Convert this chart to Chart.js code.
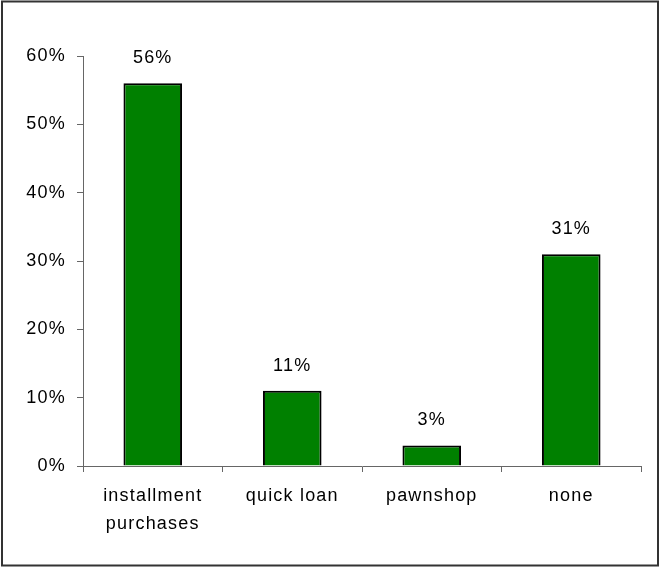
<!DOCTYPE html>
<html>
<head>
<meta charset="utf-8">
<script src="https://cdn.jsdelivr.net/npm/chart.js@4/dist/chart.umd.min.js"></script>
<style>
  html, body { margin: 0; padding: 0; background: #fff; }
  #wrap { width: 661px; height: 567px; }
</style>
</head>
<body>
<div id="wrap"><canvas id="chart" width="661" height="567"></canvas></div>
<script>
const categories = [['installment', 'purchases'], 'quick loan', 'pawnshop', 'none'];
const shares = [56, 11, 3, 31];
const yTicks = [0, 10, 20, 30, 40, 50, 60];

const FONT = "'Liberation Sans', Arial, sans-serif";
const SIZE = 18;

// spread letters a bit, like the old office renderer did
const spacing = {
  id: 'spacing',
  beforeLayout(chart) { chart.ctx.letterSpacing = '1.2px'; },
  beforeDraw(chart) { chart.ctx.letterSpacing = '1.2px'; }
};

// thin frame round the whole picture
const frame = {
  id: 'frame',
  afterDraw(chart) {
    const ctx = chart.ctx;
    ctx.save();
    ctx.strokeStyle = '#333';
    ctx.lineWidth = 2;
    ctx.strokeRect(2, 1.5, chart.width - 5, chart.height - 3);
    ctx.restore();
  }
};

// value labels above each bar
const valueLabels = {
  id: 'valueLabels',
  afterDatasetsDraw(chart) {
    const ctx = chart.ctx;
    const meta = chart.getDatasetMeta(0);
    ctx.save();
    ctx.font = SIZE + 'px ' + FONT;
    ctx.fillStyle = '#000';
    ctx.textAlign = 'center';
    ctx.textBaseline = 'middle';
    meta.data.forEach((bar, i) => {
      ctx.fillText(shares[i] + '%', bar.x, bar.y - 25);
    });
    ctx.restore();
  }
};

new Chart(document.getElementById('chart').getContext('2d'), {
  type: 'bar',
  data: {
    labels: categories,
    datasets: [{
      data: shares,
      backgroundColor: '#008000',
      borderColor: '#000',
      borderWidth: 2,
      categoryPercentage: 0.84,
      barPercentage: 0.5
    }]
  },
  options: {
    responsive: false,
    animation: false,
    layout: { padding: { top: 56, right: 20, left: 0, bottom: 0 } },
    plugins: {
      legend: { display: false },
      tooltip: { enabled: false }
    },
    scales: {
      y: {
        min: yTicks[0],
        max: yTicks[yTicks.length - 1],
        afterFit(scale) { scale.width = 83; },
        afterBuildTicks(scale) { scale.ticks = yTicks.map(v => ({ value: v })); },
        border: { color: '#666', width: 1 },
        grid: { drawOnChartArea: false, drawTicks: true, tickLength: 6, color: '#666' },
        ticks: {
          padding: 11,
          color: '#000',
          font: { family: FONT, size: SIZE },
          callback: v => v + '%'
        }
      },
      x: {
        afterFit(scale) { scale.height = 101; },
        border: { color: '#666', width: 1 },
        grid: { drawOnChartArea: false, drawTicks: true, tickLength: 6, color: '#666', offset: true },
        ticks: {
          padding: 10,
          color: '#000',
          maxRotation: 0,
          autoSkip: false,
          font: { family: FONT, size: SIZE, lineHeight: 1.55 }
        }
      }
    }
  },
  plugins: [spacing, frame, valueLabels]
});
</script>
</body>
</html>
